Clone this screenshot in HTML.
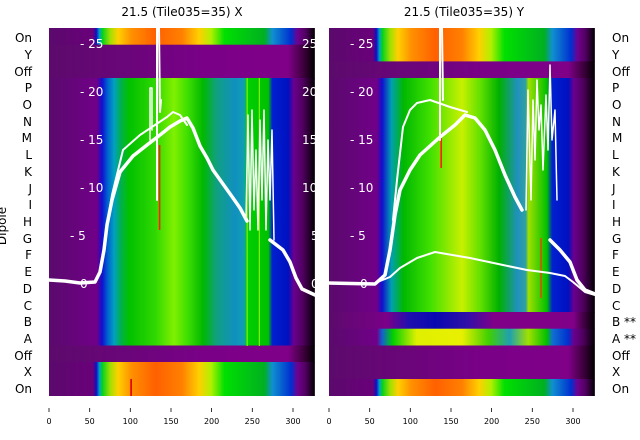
<!DOCTYPE html>
<html><head><meta charset="utf-8"><style>
html,body{margin:0;padding:0;background:#fff;width:640px;height:440px;overflow:hidden}
svg{display:block;font-family:"DejaVu Sans","Liberation Sans",sans-serif}
</style></head><body>
<svg width="640" height="440" viewBox="0 0 640 440" xmlns="http://www.w3.org/2000/svg">
<defs>
<linearGradient id="br" gradientUnits="userSpaceOnUse" x1="0" y1="0" x2="327" y2="0">
<stop offset="0" stop-color="#5a0a6c"/><stop offset="0.165" stop-color="#6a007a"/><stop offset="0.178" stop-color="#1010c0"/><stop offset="0.19" stop-color="#00a0d0"/><stop offset="0.2" stop-color="#00d020"/><stop offset="0.23" stop-color="#a0e000"/><stop offset="0.26" stop-color="#ffd000"/><stop offset="0.31" stop-color="#ff9000"/><stop offset="0.4" stop-color="#ff6000"/><stop offset="0.5" stop-color="#ff8000"/><stop offset="0.565" stop-color="#ffd000"/><stop offset="0.61" stop-color="#b0f000"/><stop offset="0.66" stop-color="#00e000"/><stop offset="0.81" stop-color="#00b020"/><stop offset="0.84" stop-color="#1090d0"/><stop offset="0.91" stop-color="#0030d0"/><stop offset="0.935" stop-color="#700090"/><stop offset="0.965" stop-color="#500060"/><stop offset="1" stop-color="#000"/>
</linearGradient>
<linearGradient id="pu" gradientUnits="userSpaceOnUse" x1="0" y1="0" x2="327" y2="0">
<stop offset="0" stop-color="#5c0a6c"/><stop offset="0.6" stop-color="#7a0088"/><stop offset="0.9" stop-color="#800088"/><stop offset="0.955" stop-color="#400040"/><stop offset="1" stop-color="#000"/>
</linearGradient>
<linearGradient id="di" gradientUnits="userSpaceOnUse" x1="0" y1="0" x2="327" y2="0">
<stop offset="0" stop-color="#5a0a6c"/><stop offset="0.18" stop-color="#700088"/><stop offset="0.2" stop-color="#1010d0"/><stop offset="0.22" stop-color="#0060d0"/><stop offset="0.245" stop-color="#00a0c0"/><stop offset="0.27" stop-color="#00b050"/><stop offset="0.3" stop-color="#00c000"/><stop offset="0.4" stop-color="#30d800"/><stop offset="0.47" stop-color="#80f000"/><stop offset="0.52" stop-color="#40e000"/><stop offset="0.58" stop-color="#00b800"/><stop offset="0.63" stop-color="#10a080"/><stop offset="0.7" stop-color="#1090c0"/><stop offset="0.735" stop-color="#10a0b0"/><stop offset="0.745" stop-color="#00d000"/><stop offset="0.825" stop-color="#00c000"/><stop offset="0.84" stop-color="#0020d0"/><stop offset="0.9" stop-color="#0010c0"/><stop offset="0.92" stop-color="#6a0090"/><stop offset="0.955" stop-color="#500060"/><stop offset="1" stop-color="#000"/>
</linearGradient>
<linearGradient id="dy" gradientUnits="userSpaceOnUse" x1="0" y1="0" x2="327" y2="0">
<stop offset="0" stop-color="#5a0a6c"/><stop offset="0.18" stop-color="#700088"/><stop offset="0.2" stop-color="#1010d0"/><stop offset="0.235" stop-color="#00a0b0"/><stop offset="0.28" stop-color="#00b800"/><stop offset="0.38" stop-color="#40e000"/><stop offset="0.5" stop-color="#c8f000"/><stop offset="0.57" stop-color="#60e000"/><stop offset="0.64" stop-color="#00b000"/><stop offset="0.71" stop-color="#2090c0"/><stop offset="0.74" stop-color="#30a0a0"/><stop offset="0.75" stop-color="#a0e000"/><stop offset="0.82" stop-color="#00c000"/><stop offset="0.84" stop-color="#0020d0"/><stop offset="0.9" stop-color="#0010c0"/><stop offset="0.92" stop-color="#6a0090"/><stop offset="0.955" stop-color="#500060"/><stop offset="1" stop-color="#000"/>
</linearGradient>
<linearGradient id="bb" gradientUnits="userSpaceOnUse" x1="0" y1="0" x2="327" y2="0">
<stop offset="0" stop-color="#5c0a6c"/><stop offset="0.22" stop-color="#7a0088"/><stop offset="0.3" stop-color="#2010b0"/><stop offset="0.4" stop-color="#0808b0"/><stop offset="0.52" stop-color="#3010a8"/><stop offset="0.62" stop-color="#800088"/><stop offset="0.92" stop-color="#800088"/><stop offset="0.96" stop-color="#400040"/><stop offset="1" stop-color="#000"/>
</linearGradient>
<linearGradient id="aa" gradientUnits="userSpaceOnUse" x1="0" y1="0" x2="327" y2="0">
<stop offset="0" stop-color="#5a0a6c"/><stop offset="0.18" stop-color="#700088"/><stop offset="0.2" stop-color="#1060d0"/><stop offset="0.24" stop-color="#00d000"/><stop offset="0.33" stop-color="#e0f000"/><stop offset="0.5" stop-color="#e8f000"/><stop offset="0.6" stop-color="#40d000"/><stop offset="0.68" stop-color="#20a0b0"/><stop offset="0.75" stop-color="#a0e000"/><stop offset="0.82" stop-color="#00c000"/><stop offset="0.84" stop-color="#1070d0"/><stop offset="0.9" stop-color="#0030d0"/><stop offset="0.92" stop-color="#6a0090"/><stop offset="0.955" stop-color="#500060"/><stop offset="1" stop-color="#000"/>
</linearGradient>
</defs>

<!-- Left panel -->
<g transform="translate(49,28) scale(0.813,1)">
<rect x="0" y="0" width="327" height="17" fill="url(#br)"/>
<rect x="0" y="16.7" width="327" height="34" fill="url(#pu)"/>
<rect x="0" y="50" width="327" height="268" fill="url(#di)"/>
<rect x="0" y="317.5" width="327" height="17" fill="url(#pu)"/>
<rect x="0" y="334" width="327" height="34" fill="url(#br)"/>
<rect x="135" y="117" width="2" height="85" fill="#ff2000"/>
<rect x="100" y="351" width="2" height="17" fill="#e00000"/>
<rect x="243" y="50" width="1.5" height="268" fill="#80f000"/>
<rect x="258" y="50" width="1.5" height="268" fill="#80f000"/>
</g>
<!-- Right panel -->
<g transform="translate(329,28) scale(0.813,1)">
<rect x="0" y="0" width="327" height="34" fill="url(#br)"/>
<rect x="0" y="33.4" width="327" height="17" fill="url(#pu)"/>
<rect x="0" y="50" width="327" height="234.5" fill="url(#dy)"/>
<rect x="0" y="284" width="327" height="17" fill="url(#bb)"/>
<rect x="0" y="300.7" width="327" height="17" fill="url(#aa)"/>
<rect x="0" y="317.5" width="327" height="34" fill="url(#pu)"/>
<rect x="0" y="351" width="327" height="17" fill="url(#br)"/>
<rect x="137" y="105" width="2" height="35" fill="#ff2000"/>
<rect x="260" y="210" width="1.5" height="60" fill="#ff3000"/>
</g>

<!-- curves left -->
<g fill="none" stroke="#fff" stroke-linejoin="round" stroke-linecap="round">
<polyline stroke-width="3.5" points="49,280 65,281 80,283 95,282 100,272 104,250 107,225 112,200 120,172 133,156 147,145 160,135 170,127 180,121 187,118 193,128 200,146 207,158 213,170 223,184 233,198 240,208 247,221"/>
<polyline stroke-width="2" points="106,230 112,195 123,150 140,135 155,125 167,117 173,112 180,115 187,125"/>
<polyline stroke-width="2" points="157,28 157,200"/>
<polyline stroke-width="2" points="159,28 160,112 161,100"/>
<polyline stroke-width="1.5" points="150,140 150,88 152,88 152,130"/>
<polyline stroke-width="1.5" points="246,220 248,115 250,230 252,110 254,210 256,150 258,230 260,120 262,200 264,110 266,230 268,140 270,200 272,130 274,240"/>
<polyline stroke-width="3.5" points="270,240 283,250 290,262 296,278 302,289 315,295"/>
</g>
<!-- curves right -->
<g fill="none" stroke="#fff" stroke-linejoin="round" stroke-linecap="round">
<polyline stroke-width="3.5" points="328,283 375,284 385,275 390,250 395,215 400,190 410,170 420,155 440,137 455,125 465,115 475,118 485,130 495,150 505,175 515,197 522,210"/>
<polyline stroke-width="2" points="393,220 397,180 403,127 410,110 417,103 430,100 450,107 467,112"/>
<polyline stroke-width="2" points="375,283 390,277 400,268 417,258 435,252 470,258 503,265 527,270 550,273 565,276 573,282 585,292 595,295"/>
<polyline stroke-width="2" points="440,28 440,140"/>
<polyline stroke-width="2" points="442,28 443,100"/>
<polyline stroke-width="1.5" points="526,210 528,90 531,200 533,100 535,160 537,80 539,130 541,105 543,170 546,95 548,150 550,65 552,140 555,110 557,200"/>
<polyline stroke-width="3.5" points="550,240 560,250 570,262 577,280 585,290 595,294"/>
</g>

<!-- inner tick labels -->
<g fill="#fff" font-size="12">
<text x="80" y="48">- 25</text><text x="80" y="96">- 20</text><text x="80" y="144">- 15</text><text x="80" y="192">- 10</text><text x="70" y="240">- 5</text><text x="80" y="288">0</text>
<text x="302" y="48">25</text><text x="302" y="96">20</text><text x="302" y="144">15</text><text x="302" y="192">10</text><text x="311" y="240">5</text><text x="311" y="288">0</text>
<text x="350" y="48">- 25</text><text x="350" y="96">- 20</text><text x="350" y="144">- 15</text><text x="350" y="192">- 10</text><text x="350" y="240">- 5</text><text x="360" y="288">0</text>
</g>

<!-- titles -->
<g font-size="12" fill="#000" text-anchor="middle">
<text x="182" y="16">21.5 (Tile035=35) X</text>
<text x="464" y="16">21.5 (Tile035=35) Y</text>
</g>

<!-- left row labels -->
<g font-size="12" fill="#000" text-anchor="end">
<text x="32" y="42">On</text><text x="32" y="59">Y</text><text x="32" y="76">Off</text><text x="32" y="92">P</text><text x="32" y="109">O</text><text x="32" y="126">N</text><text x="32" y="142">M</text><text x="32" y="159">L</text><text x="32" y="176">K</text><text x="32" y="193">J</text><text x="32" y="209">I</text><text x="32" y="226">H</text><text x="32" y="243">G</text><text x="32" y="259">F</text><text x="32" y="276">E</text><text x="32" y="293">D</text><text x="32" y="310">C</text><text x="32" y="326">B</text><text x="32" y="343">A</text><text x="32" y="360">Off</text><text x="32" y="376">X</text><text x="32" y="393">On</text>
</g>
<text x="0" y="220" font-size="12" transform="rotate(-90 6 220)" fill="#000" text-anchor="middle">Dipole</text>
<!-- right row labels -->
<g font-size="12" fill="#000">
<text x="612" y="42">On</text><text x="612" y="59">Y</text><text x="612" y="76">Off</text><text x="612" y="92">P</text><text x="612" y="109">O</text><text x="612" y="126">N</text><text x="612" y="142">M</text><text x="612" y="159">L</text><text x="612" y="176">K</text><text x="612" y="193">J</text><text x="612" y="209">I</text><text x="612" y="226">H</text><text x="612" y="243">G</text><text x="612" y="259">F</text><text x="612" y="276">E</text><text x="612" y="293">D</text><text x="612" y="310">C</text><text x="612" y="326">B **</text><text x="612" y="343">A **</text><text x="612" y="360">Off</text><text x="612" y="376">X</text><text x="612" y="393">On</text>
</g>

<!-- x ticks -->
<g stroke="#000" stroke-width="0.8">
<line x1="49" y1="408" x2="49" y2="412"/><line x1="89.7" y1="408" x2="89.7" y2="412"/><line x1="130.3" y1="408" x2="130.3" y2="412"/><line x1="171" y1="408" x2="171" y2="412"/><line x1="211.6" y1="408" x2="211.6" y2="412"/><line x1="252.3" y1="408" x2="252.3" y2="412"/><line x1="293" y1="408" x2="293" y2="412"/>
<line x1="329" y1="408" x2="329" y2="412"/><line x1="369.7" y1="408" x2="369.7" y2="412"/><line x1="410.3" y1="408" x2="410.3" y2="412"/><line x1="451" y1="408" x2="451" y2="412"/><line x1="491.6" y1="408" x2="491.6" y2="412"/><line x1="532.3" y1="408" x2="532.3" y2="412"/><line x1="573" y1="408" x2="573" y2="412"/>
</g>
<g font-size="8" fill="#000" text-anchor="middle">
<text x="49" y="424">0</text><text x="89.7" y="424">50</text><text x="130.3" y="424">100</text><text x="171" y="424">150</text><text x="211.6" y="424">200</text><text x="252.3" y="424">250</text><text x="293" y="424">300</text>
<text x="329" y="424">0</text><text x="369.7" y="424">50</text><text x="410.3" y="424">100</text><text x="451" y="424">150</text><text x="491.6" y="424">200</text><text x="532.3" y="424">250</text><text x="573" y="424">300</text>
</g>
</svg>
</body></html>
